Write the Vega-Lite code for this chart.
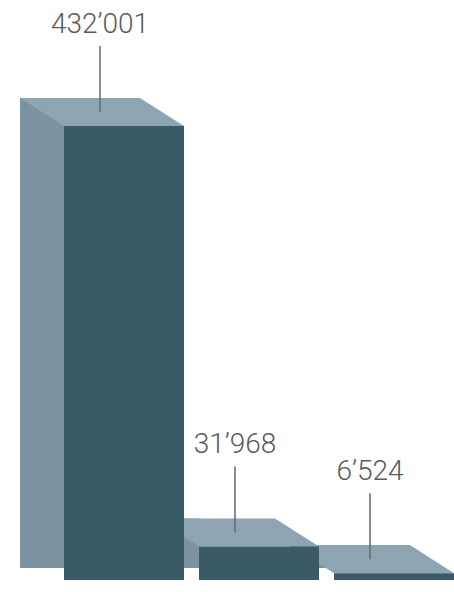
{
  "$schema": "https://vega.github.io/schema/vega-lite/v6.json",
  "width": 454,
  "height": 592,
  "autosize": {"type": "none"},
  "padding": 0,
  "background": "white",
  "config": {"view": {"stroke": null}},
  "data": {
    "values": [
      {"category": "1", "value": 432001, "label": "432’001"},
      {"category": "2", "value": 31968, "label": "31’968"},
      {"category": "3", "value": 6524, "label": "6’524"}
    ]
  },
  "encoding": {
    "x": {
      "field": "category",
      "type": "nominal",
      "axis": null,
      "sort": null,
      "scale": {"type": "band", "range": [64, 454], "paddingInner": 0.111, "paddingOuter": 0}
    },
    "y": {
      "field": "value",
      "type": "quantitative",
      "axis": null,
      "scale": {"domain": [0, 552000], "range": [580, 0], "nice": false, "zero": true}
    }
  },
  "layer": [
    {
      "mark": {"type": "bar", "color": "#7b93a0", "width": 44, "xOffset": -82, "yOffset": -28, "y2Offset": -12},
      "encoding": {"y2": {"datum": 0}}
    },
    {
      "mark": {
        "type": "point",
        "filled": true,
        "opacity": 1,
        "color": "#8da5b2",
        "strokeWidth": 0,
        "size": 26896,
        "shape": "M-1,-0.171L0.463,-0.171L1,0.171L-0.463,0.171Z",
        "xOffset": -22,
        "yOffset": -14
      }
    },
    {
      "mark": {"type": "bar", "color": "#3b5a67", "width": 120},
      "encoding": {"y2": {"datum": 0}}
    },
    {
      "mark": {"type": "rule", "color": "#5f6a70", "strokeWidth": 1.5, "xOffset": -24, "yOffset": -80, "y2Offset": -14},
      "encoding": {"y2": {"field": "value"}}
    },
    {
      "mark": {
        "type": "text",
        "font": "Roboto",
        "fontWeight": 300,
        "fontSize": 28,
        "color": "#5a5a5a",
        "align": "center",
        "baseline": "alphabetic",
        "xOffset": -24,
        "yOffset": -93
      },
      "encoding": {"text": {"field": "label"}}
    }
  ]
}
